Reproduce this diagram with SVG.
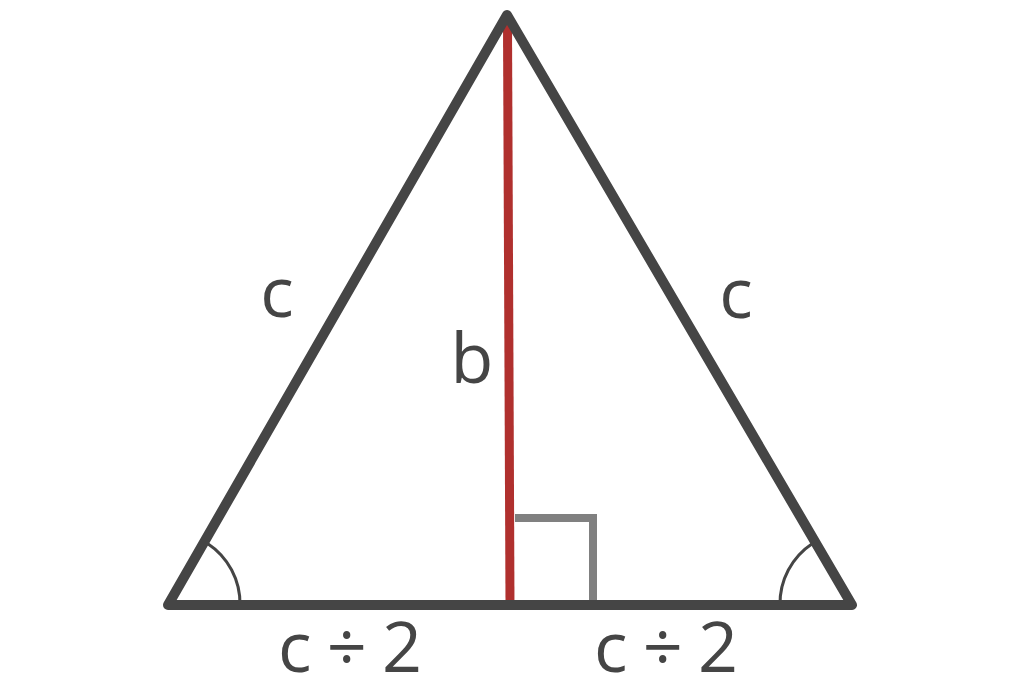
<svg xmlns="http://www.w3.org/2000/svg" width="1024" height="683" viewBox="0 0 1024 683">
<style>
.lbl{font-family:"Open Sans","Liberation Sans",sans-serif;font-size:70px;fill:#454545;text-anchor:middle}
.frac{word-spacing:-3px}
.side{fill:none;stroke:#454545;stroke-width:10;stroke-linecap:round;stroke-linejoin:round}
.arc{fill:none;stroke:#454545;stroke-width:3}
</style>
<rect width="1024" height="683" fill="#fff"/>
<g id="right-angle"><polyline points="515,518 593,518 593,605" fill="none" stroke="#808080" stroke-width="8"/></g>
<g id="angles">
<path class="arc" d="M207.5,543.5 A72,72 0 0 1 240,605"/>
<path class="arc" d="M812.5,543.5 A72,72 0 0 0 780,605"/>
</g>
<g id="height"><line x1="507.5" y1="25" x2="510" y2="605" stroke="#b0302e" stroke-width="9"/></g>
<g id="triangle"><polygon class="side" points="507,15 852,605 168,605"/></g>
<g id="labels">
<text class="lbl" x="277" y="317">c</text>
<text class="lbl" x="736" y="318">c</text>
<text class="lbl" x="472" y="383">b</text>
<text class="lbl frac" x="350" y="672">c ÷ 2</text>
<text class="lbl frac" x="666" y="672">c ÷ 2</text>
</g>
</svg>
